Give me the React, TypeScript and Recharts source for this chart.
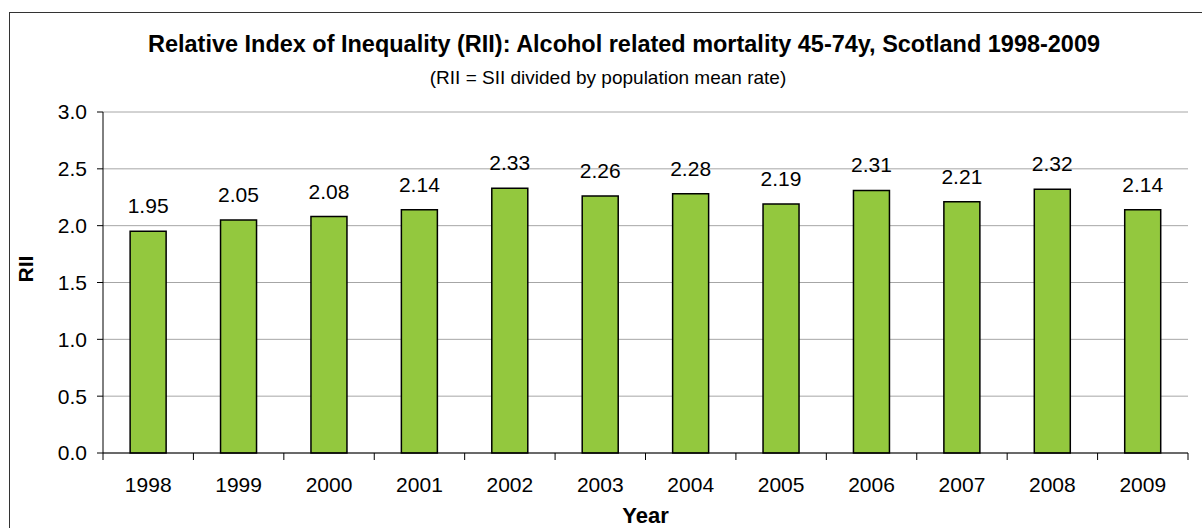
import { BarChart, Bar, XAxis, YAxis, CartesianGrid, LabelList, Label } from "recharts";

const years = ["1998", "1999", "2000", "2001", "2002", "2003", "2004", "2005", "2006", "2007", "2008", "2009"];
const rii = [1.95, 2.05, 2.08, 2.14, 2.33, 2.26, 2.28, 2.19, 2.31, 2.21, 2.32, 2.14];
const yTicks = [0, 0.5, 1.0, 1.5, 2.0, 2.5, 3.0];

const W = 1202;
const H = 528;
const M = { top: 112, right: 14, bottom: 35, left: 43 };
const Y_AXIS_W = 60;
const X_AXIS_H = 40;
const PLOT_W = W - M.left - Y_AXIS_W - M.right;
const BAND = PLOT_W / years.length;

const FONT = "'Liberation Sans', Arial, sans-serif";
const GREEN = "#93C83E";
const GRID = "#A6A6A6";

const data = years.map((year, i) => ({ year, value: rii[i] }));

// tick labels centred on bars, tick marks on category edges (Excel style)
function YearTick(props: any) {
  const { x, y, payload, index } = props;
  const left = x - BAND / 2;
  return (
    <g>
      <line x1={left} y1={y} x2={left} y2={y + 7} stroke="#000" />
      {index === years.length - 1 && (
        <line x1={x + BAND / 2} y1={y} x2={x + BAND / 2} y2={y + 7} stroke="#000" />
      )}
      <text x={x} y={y + 39} textAnchor="middle" fontSize={21} fontFamily={FONT} fill="#000">
        {payload.value}
      </text>
    </g>
  );
}

export default function App() {
  return (
    <div style={{ position: "absolute", left: 0, top: 0, width: W, height: H, background: "#fff", overflow: "hidden", fontFamily: FONT }}>
      <div style={{ position: "absolute", left: 9, top: 12, width: W, height: H, borderLeft: "1px solid #333", borderTop: "1px solid #333" }} />
      <svg width={W} height={100} style={{ position: "absolute", left: 0, top: 0 }}>
        <text x={624} y={52} textAnchor="middle" fontSize={23} fontWeight="bold" fontFamily={FONT} fill="#000" textLength={952} lengthAdjust="spacingAndGlyphs">
          Relative Index of Inequality (RII): Alcohol related mortality 45-74y, Scotland 1998-2009
        </text>
        <text x={608} y={84} textAnchor="middle" fontSize={19} fontFamily={FONT} fill="#000">
          (RII = SII divided by population mean rate)
        </text>
      </svg>
      <div style={{ position: "absolute", left: 0, top: 0 }}>
        <BarChart width={W} height={H} data={data} margin={M} barCategoryGap="30%">
          <CartesianGrid vertical={false} stroke={GRID} strokeWidth={1} />
          <XAxis
            dataKey="year"
            height={X_AXIS_H}
            axisLine={{ stroke: "#000" }}
            tickLine={false}
            tickSize={0}
            tickMargin={0}
            interval={0}
            tick={<YearTick />}
          >
            <Label value="Year" position="insideBottom" offset={-30} fontSize={22} fontWeight="bold" fill="#000" fontFamily={FONT} />
          </XAxis>
          <YAxis
            domain={[0, 3]}
            ticks={yTicks}
            width={Y_AXIS_W}
            tickFormatter={(v: number) => v.toFixed(1)}
            tick={{ fontSize: 21, fill: "#000", fontFamily: FONT }}
            axisLine={{ stroke: "#000" }}
            tickLine={{ stroke: "#000" }}
            tickSize={6}
            tickMargin={10}
          >
            <Label value="RII" angle={-90} position="insideLeft" offset={-17} fontSize={21} fontWeight="bold" fill="#000" fontFamily={FONT} />
          </YAxis>
          <YAxis yAxisId="edge" orientation="right" width={0} tick={false} tickLine={false} axisLine={{ stroke: GRID }} />
          <Bar dataKey="value" fill={GREEN} stroke="#000" strokeWidth={1.5} isAnimationActive={false}>
            <LabelList
              dataKey="value"
              position="top"
              offset={18}
              formatter={(v: any) => Number(v).toFixed(2)}
              fontSize={21}
              fill="#000"
              fontFamily={FONT}
            />
          </Bar>
        </BarChart>
      </div>
    </div>
  );
}
